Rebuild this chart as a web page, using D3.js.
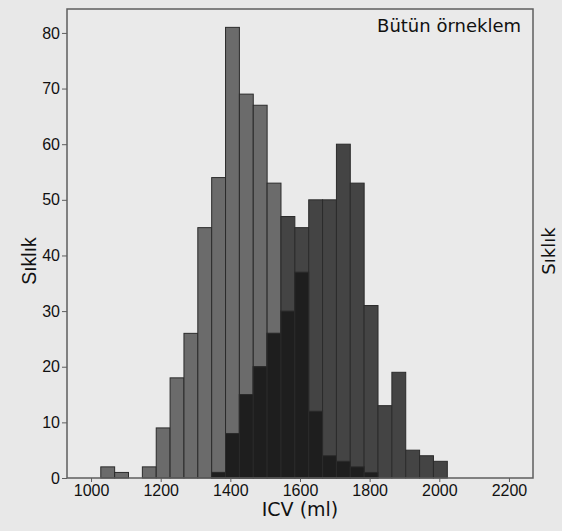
<!DOCTYPE html>
<html>
<head>
<meta charset="utf-8">
<script src="https://cdn.jsdelivr.net/npm/d3@7"></script>
<style>
  html, body { margin: 0; padding: 0; background: #e8e8e8; }
  svg { display: block; }
</style>
</head>
<body>
<script>
// ---- data ----
const binStart = 1028;
const binWidth = 39.8;
const women = [2, 1, 0, 2, 9, 18, 26, 45, 54, 81, 69, 67, 53, 30, 37, 12, 4, 3, 2, 1, 0, 0, 0, 0, 0];
const men   = [0, 0, 0, 0, 0, 0, 0, 0, 1, 8, 15, 20, 26, 47, 45, 50, 50, 60, 53, 31, 13, 19, 5, 4, 3];
const xTicks = [1000, 1200, 1400, 1600, 1800, 2000, 2200];
const yTicks = [0, 10, 20, 30, 40, 50, 60, 70, 80];
const title = "Bütün örneklem";
const xLabel = "ICV (ml)";
const yLabel = "Sıklık";

(function () {
const W = 562, H = 531;
const pL = 67, pR = 533, pT = 9, pB = 478;

const svg = d3.select("body").append("svg").attr("width", W).attr("height", H);
svg.append("rect").attr("width", W).attr("height", H).attr("fill", "#e8e8e8");

const x = d3.scaleLinear().domain([931, 2269]).range([pL, pR]);
const y = d3.scaleLinear().domain([0, 84.3]).range([pB, pT]);

svg.append("rect").attr("x", pL).attr("y", pT).attr("width", pR - pL).attr("height", pB - pT)
  .attr("fill", "#eaeaea");

const bins = women.map((w, i) => ({
  x0: binStart + i * binWidth,
  x1: binStart + (i + 1) * binWidth,
  w: w, m: men[i], o: Math.min(w, men[i])
}));

function drawBars(key, color) {
  svg.append("g").selectAll("rect").data(bins.filter(d => d[key] > 0)).join("rect")
    .attr("x", d => x(d.x0))
    .attr("width", d => x(d.x1) - x(d.x0))
    .attr("y", d => y(d[key]))
    .attr("height", d => y(0) - y(d[key]))
    .attr("fill", color)
    .attr("stroke", "#2b2b2b")
    .attr("stroke-width", 1);
}
drawBars("w", "#6b6b6b");
drawBars("m", "#444444");
drawBars("o", "#1e1e1e");

// frame
svg.append("rect").attr("x", pL).attr("y", pT).attr("width", pR - pL).attr("height", pB - pT)
  .attr("fill", "none").attr("stroke", "#5e5e5e").attr("stroke-width", 1.5);

// axes
const xAxis = svg.append("g").attr("transform", `translate(0,${pB})`)
  .call(d3.axisBottom(x).tickValues(xTicks).tickSize(4).tickPadding(3).tickFormat(d3.format("d")));
const yAxis = svg.append("g").attr("transform", `translate(${pL},0)`)
  .call(d3.axisLeft(y).tickValues(yTicks).tickSize(5).tickPadding(2));
[xAxis, yAxis].forEach(g => {
  g.select(".domain").remove();
  g.selectAll(".tick line").attr("stroke", "#5e5e5e");
  g.selectAll(".tick text").attr("fill", "#111")
    .style("font-family", "'Liberation Sans', Arial, sans-serif").style("font-size", "16px");
});

// labels
svg.append("text").attr("x", 521).attr("y", 32).attr("text-anchor", "end")
  .style("font-family", "'DejaVu Sans', sans-serif").style("font-size", "18px").attr("fill", "#111")
  .text(title);
svg.append("text").attr("x", 300).attr("y", 516).attr("text-anchor", "middle")
  .style("font-family", "'DejaVu Sans', sans-serif").style("font-size", "19px").attr("fill", "#111")
  .text(xLabel);
svg.append("text").attr("transform", "translate(36,261) rotate(-90)").attr("text-anchor", "middle")
  .style("font-family", "'Liberation Sans', Arial, sans-serif").style("font-size", "19.5px").attr("fill", "#111")
  .text(yLabel);
svg.append("text").attr("transform", "translate(554.5,251) rotate(-90)").attr("text-anchor", "middle")
  .style("font-family", "'DejaVu Sans', sans-serif").style("font-size", "18px").attr("fill", "#111")
  .text(yLabel);
})();
</script>
</body>
</html>
